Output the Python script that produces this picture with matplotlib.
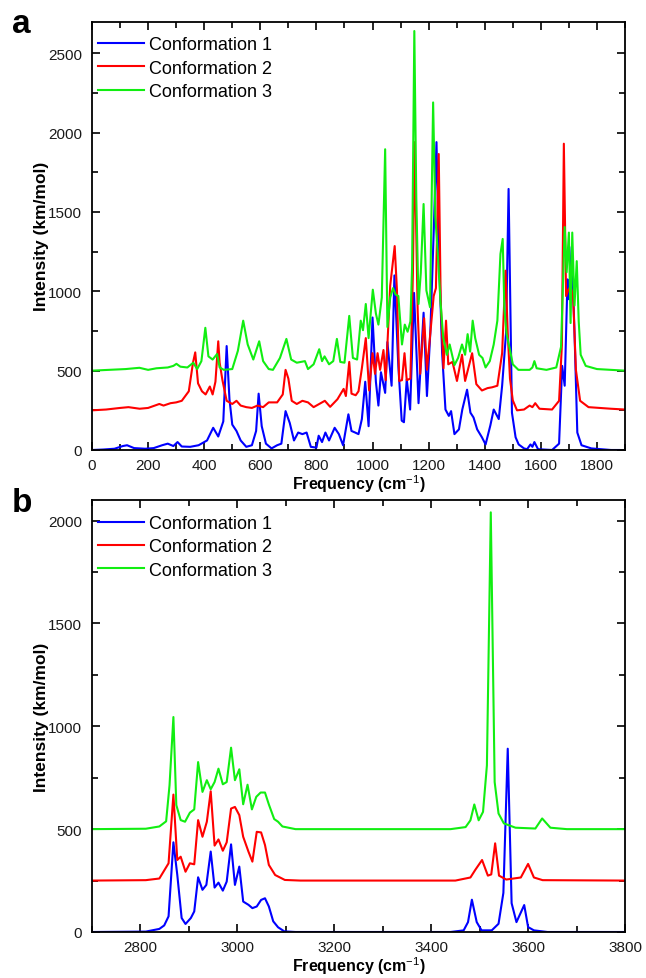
import matplotlib as mpl
import matplotlib.pyplot as plt
from matplotlib.ticker import MultipleLocator

mpl.use('Agg')

plt.rcParams['font.family'] = ['Liberation Sans', 'DejaVu Sans']
plt.rcParams['mathtext.fontset'] = 'custom'
plt.rcParams['mathtext.rm'] = 'Liberation Sans'
plt.rcParams['mathtext.bf'] = 'Liberation Sans:bold'

etiquetas = ["Conformation 1", "Conformation 2", "Conformation 3"]
cores = ["#0000ff", "#ff0000", "#11ee11"]
deslocamentos = [0, 250, 500]

# painel a: 0 - 1900 cm-1  (frequencia, intensidade)
freq_a1 = [0, 40, 80, 110, 125, 150, 190, 220, 250, 270, 290, 305, 320, 350, 380, 410, 432, 450, 468, 480,
           490, 500, 515, 530, 550, 570, 585, 594, 605, 620, 640, 660, 675, 690, 705, 720, 735, 750, 765, 780,
           800, 808, 820, 832, 845, 865, 880, 895, 914, 925, 938, 950, 962, 974, 986, 1000, 1012, 1021, 1030,
           1045, 1053, 1068, 1078, 1092, 1104, 1112, 1122, 1134, 1148, 1164, 1182, 1194, 1206, 1218, 1228,
           1236, 1248, 1260, 1272, 1280, 1292, 1308, 1320, 1337, 1349, 1360, 1373, 1390, 1403, 1420, 1432,
           1450, 1462, 1476, 1485, 1497, 1510, 1521, 1540, 1551, 1563, 1570, 1577, 1590, 1640, 1665, 1676,
           1685, 1695, 1700, 1710, 1720, 1730, 1745, 1780, 1850, 1880]
int_a1 = [0, 3, 8, 25, 30, 12, 8, 12, 30, 40, 25, 50, 22, 20, 30, 60, 140, 85, 180, 655,
          320, 160, 120, 60, 20, 30, 120, 355, 150, 40, 10, 30, 40, 245, 170, 60, 110, 100, 110, 20,
          15, 90, 50, 110, 60, 140, 100, 30, 225, 120, 110, 100, 195, 430, 150, 835, 430, 280, 490,
          360, 680, 405, 1100, 530, 185, 175, 445, 255, 990, 295, 865, 340, 740, 1370, 1940,
          1285, 615, 255, 215, 245, 100, 130, 255, 380, 235, 205, 130, 80, 35, 155, 255,
          195, 405, 740, 1645, 235, 80, 35, 10, 5, 35, 20, 50, 5, 0, 40, 530,
          405, 1075, 950, 1280, 740, 110, 30, 10, 0, 0]

freq_a2 = [0, 50, 100, 130, 170, 200, 240, 255, 280, 300, 320, 345, 360, 368, 378, 392, 405, 420, 430, 440,
           450, 455, 465, 480, 500, 515, 530, 550, 570, 590, 610, 630, 660, 680, 690, 700, 712, 730, 750,
           770, 790, 810, 830, 849, 875, 897, 905, 917, 925, 940, 950, 962, 976, 988, 1000, 1009, 1018,
           1027, 1039, 1047, 1063, 1079, 1087, 1095, 1105, 1114, 1122, 1135, 1144, 1150, 1161, 1170, 1184,
           1194, 1206, 1218, 1226, 1236, 1243, 1253, 1262, 1270, 1285, 1301, 1319, 1330, 1355, 1370, 1390,
           1410, 1426, 1445, 1462, 1474, 1482, 1490, 1500, 1515, 1540, 1560, 1570, 1580, 1595, 1640, 1665,
           1675, 1682, 1690, 1698, 1706, 1715, 1725, 1740, 1770, 1850, 1900]
int_a2 = [0, 5, 15, 20, 10, 15, 40, 30, 45, 50, 60, 120, 300, 365, 170, 120, 100, 150, 100, 180,
          435, 300, 190, 60, 40, 60, 30, 20, 15, 30, 20, 50, 50, 100, 255, 200, 60, 40, 60,
          50, 20, 40, 60, 22, 70, 135, 90, 305, 105, 95, 120, 265, 455, 125, 360, 230, 360,
          255, 380, 190, 785, 1035, 760, 185, 190, 360, 190, 200, 870, 1690, 620, 230, 580,
          255, 485, 720, 770, 1615, 695, 265, 565, 290, 305, 185, 350, 185, 360, 165, 125,
          140, 145, 155, 360, 880, 485, 200, 63, 0, 5, 30, 20, 45, 10, 5, 60,
          410, 1680, 720, 760, 780, 720, 255, 60, 20, 10, 5]

freq_a3 = [0, 60, 120, 169, 200, 230, 270, 290, 301, 315, 340, 361, 375, 390, 404, 415, 430, 446, 455, 470,
           500, 520, 539, 555, 575, 596, 610, 630, 645, 670, 693, 710, 730, 759, 770, 790, 810, 820, 829,
           845, 860, 873, 885, 900, 917, 930, 945, 958, 966, 976, 986, 1001, 1012, 1021, 1033, 1045, 1053,
           1063, 1073, 1082, 1092, 1105, 1115, 1125, 1135, 1141, 1149, 1156, 1164, 1172, 1182, 1192, 1205,
           1216, 1224, 1232, 1242, 1252, 1265, 1275, 1292, 1305, 1319, 1330, 1339, 1348, 1357, 1366, 1380,
           1392, 1403, 1418, 1432, 1445, 1456, 1464, 1470, 1478, 1490, 1500, 1520, 1560, 1570, 1577, 1585,
           1620, 1655, 1672, 1685, 1692, 1700, 1706, 1712, 1720, 1728, 1735, 1742, 1760, 1800, 1900]
int_a3 = [0, 5, 10, 18, 5, 15, 20, 30, 43, 25, 20, 50, 10, 60, 270, 90, 70, 105, 20, 5,
          10, 125, 315, 165, 70, 185, 60, 10, 5, 80, 200, 70, 50, 60, 10, 40, 135, 60, 90,
          40, 60, 200, 55, 50, 345, 80, 70, 315, 255, 420, 205, 510, 360, 290, 460, 1395, 275,
          460, 520, 480, 470, 165, 290, 245, 310, 650, 2140, 1090, 420, 615, 1050, 505, 400,
          1690, 965, 755, 440, 210, 100, 165, 35, 80, 165, 100, 230, 120, 315, 205, 100,
          80, 20, 60, 165, 315, 735, 830, 390, 230, 130, 40, 5, 5, 20, 60, 15,
          5, 20, 150, 905, 620, 870, 300, 870, 410, 690, 310, 100, 30, 10, 0]

# painel b: 2700 - 3800 cm-1
freq_b1 = [2700, 2811, 2839, 2849, 2858, 2868, 2876, 2885, 2893, 2904, 2911, 2919, 2928, 2936, 2945, 2953,
           2961, 2970, 2978, 2987, 2995, 3004, 3012, 3023, 3031, 3040, 3049, 3057, 3065, 3074, 3084, 3097,
           3120, 3440, 3467, 3476, 3484, 3494, 3504, 3525, 3539, 3549, 3558, 3566, 3576, 3592, 3600, 3612,
           3640, 3800]
int_b1 = [0, 2, 15, 32, 76, 436, 278, 68, 39, 68, 100, 266, 205, 229, 391, 216,
          240, 201, 245, 426, 229, 318, 148, 132, 116, 124, 156, 164, 124, 52, 23, 3,
          0, 0, 8, 48, 157, 48, 8, 8, 40, 190, 891, 140, 48, 131, 24, 8,
          0, 0]

freq_b2 = [2700, 2811, 2839, 2858, 2868, 2876, 2883, 2893, 2902, 2911, 2919, 2928, 2937, 2945, 2953, 2961,
           2970, 2978, 2987, 2995, 3004, 3012, 3023, 3031, 3040, 3049, 3057, 3065, 3078, 3098, 3130, 3450,
           3481, 3491, 3505, 3517, 3524, 3532, 3540, 3555, 3585, 3600, 3612, 3630, 3800]
int_b2 = [0, 2, 10, 84, 418, 100, 116, 43, 84, 79, 294, 213, 286, 434, 170, 200,
          145, 186, 350, 358, 318, 213, 140, 92, 237, 234, 173, 76, 27, 3, 0, 0,
          15, 52, 100, 24, 30, 181, 24, 5, 15, 81, 15, 2, 0]

freq_b3 = [2700, 2811, 2839, 2853, 2860, 2868, 2874, 2883, 2892, 2902, 2911, 2919, 2928, 2937, 2945, 2953,
           2961, 2970, 2978, 2987, 2995, 3004, 3012, 3021, 3030, 3039, 3048, 3057, 3065, 3076, 3084, 3093,
           3120, 3440, 3471, 3481, 3489, 3498, 3507, 3515, 3523, 3531, 3539, 3550, 3574, 3615, 3629, 3646,
           3680, 3800]
int_b3 = [0, 2, 13, 38, 213, 545, 117, 44, 36, 80, 96, 326, 181, 238, 194, 229,
          294, 218, 229, 396, 238, 291, 121, 216, 96, 157, 178, 178, 120, 49, 36, 13,
          0, 0, 10, 43, 120, 43, 84, 310, 1540, 229, 76, 28, 7, 3, 52, 7,
          0, 0]

dados_a = [(freq_a1, int_a1), (freq_a2, int_a2), (freq_a3, int_a3)]
dados_b = [(freq_b1, int_b1), (freq_b2, int_b2), (freq_b3, int_b3)]

cor_texto = "#1a1a1a"


def desenha_painel(ax, dados, xlim, ylim, passo_x, letra):
    for (x, y), cor, rotulo, d in zip(dados, cores, etiquetas, deslocamentos):
        ax.plot(x, [v + d for v in y], color=cor, lw=1.5, label=rotulo)
    ax.set_xlim(*xlim)
    ax.set_ylim(*ylim)
    ax.xaxis.set_major_locator(MultipleLocator(passo_x))
    ax.xaxis.set_minor_locator(MultipleLocator(passo_x / 2))
    ax.yaxis.set_major_locator(MultipleLocator(500))
    ax.yaxis.set_minor_locator(MultipleLocator(250))
    ax.tick_params(which='both', direction='in', top=True, right=True,
                   width=1.2, labelsize=11, labelcolor=cor_texto)
    ax.tick_params(axis='x', pad=6)
    ax.tick_params(axis='y', pad=7)
    ax.tick_params(which='major', length=6)
    ax.tick_params(which='minor', length=4.5)
    for s in ax.spines.values():
        s.set_linewidth(1.3)
    ax.set_xlabel("Frequency (cm$^{-1}$)", fontsize=11.5, fontweight='bold', labelpad=0)
    ax.set_ylabel("Intensity (km/mol)", fontsize=12.5, fontweight='bold')
    ax.yaxis.set_label_coords(-0.08, 0.5)
    ax.legend(loc='upper left', bbox_to_anchor=(0.012, 0.965), frameon=False,
              fontsize=13, handlelength=2.5, handletextpad=0.3,
              labelspacing=0.35, borderaxespad=0, borderpad=0)
    ax.text(-0.15, 0.995, letra, transform=ax.transAxes, fontsize=24,
            fontweight='bold', ha='left', va='center')


fig = plt.figure(figsize=(6.46, 9.79), dpi=100)
ax_a = fig.add_axes([92 / 646, 1 - 451 / 979, 533 / 646, 428.5 / 979])
ax_b = fig.add_axes([92 / 646, 1 - 933 / 979, 533 / 646, 432 / 979])

desenha_painel(ax_a, dados_a, (0, 1900), (0, 2700), 200, "a")
desenha_painel(ax_b, dados_b, (2700, 3800), (0, 2100), 200, "b")

fig.savefig("out.png", dpi=100)
